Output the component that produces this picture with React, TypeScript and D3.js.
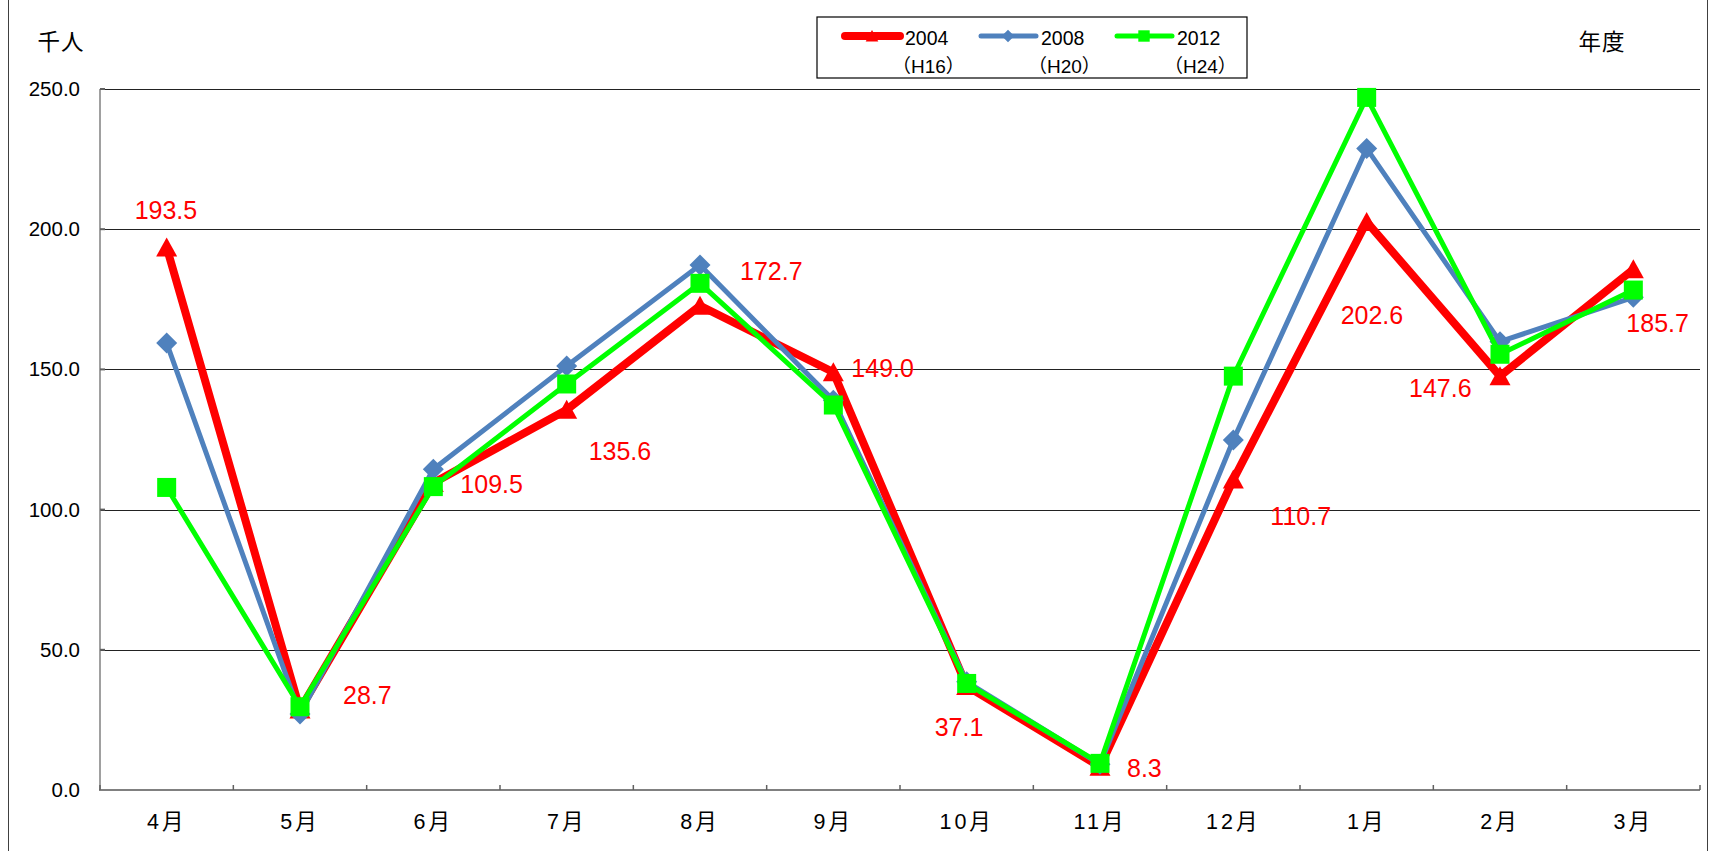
import * as d3 from 'd3'

const months = ['4月', '5月', '6月', '7月', '8月', '9月', '10月', '11月', '12月', '1月', '2月', '3月']
const v2004 = [193.5, 28.7, 109.5, 135.6, 172.7, 149.0, 37.1, 8.3, 110.7, 202.6, 147.6, 185.7]
const v2008 = [159.4, 27.1, 114.4, 151.2, 187.2, 139.0, 38.6, 9.2, 124.8, 228.8, 159.9, 175.7]
const v2012 = [107.9, 29.7, 108.2, 144.8, 180.7, 137.3, 38.0, 9.5, 147.6, 247.0, 155.4, 178.3]
const yTicks = [0, 50, 100, 150, 200, 250]
const seriesNames = ['2004', '2008', '2012']
const seriesEras = ['（H16）', '（H20）', '（H24）']

// hand placement of the red value labels, offset from each point (px)
const labelOffsets: [number, number][] = [
  [-32, -28], [43, -6], [27, 10], [22, 50], [40, -26], [18, 5],
  [-32, 50], [27, 10], [37, 45], [-26, 102], [-91, 21], [-7, 63],
]

const W = 1711
const H = 851
const margin = { top: 89, right: 11, bottom: 61, left: 100 }
const FONT = '"Liberation Sans", Arial, "Noto Sans CJK JP", sans-serif'

const shapes: Record<string, string> = {
  triangle: 'M0,-10L10.5,9L-10.5,9Z',
  diamond: 'M0,-10.5L10.5,0L0,10.5L-10.5,0Z',
  square: 'M-9.5,-9.5H9.5V9.5H-9.5Z',
}

const series = [
  { name: seriesNames[0], era: seriesEras[0], values: v2004, color: '#FF0000', width: 8, shape: 'triangle' },
  { name: seriesNames[1], era: seriesEras[1], values: v2008, color: '#4F81BD', width: 5, shape: 'diamond' },
  { name: seriesNames[2], era: seriesEras[2], values: v2012, color: '#00FF00', width: 5, shape: 'square' },
]

export default function App() {
  const x = d3
    .scaleBand<string>()
    .domain(months)
    .range([margin.left, W - margin.right])
  const y = d3
    .scaleLinear()
    .domain([0, 250])
    .range([H - margin.bottom, margin.top])

  const cx = (i: number) => (x(months[i]) || 0) + x.bandwidth() / 2

  const line = d3
    .line<number>()
    .x((_, i) => cx(i))
    .y((d) => y(d))

  const boundaries = months.map((m) => x(m) || 0).concat([W - margin.right])

  const legendX = [845, 981, 1117]

  return (
    <svg
      width={W}
      height={H}
      style={{ position: 'absolute', left: 0, top: 0, background: '#fff' }}
      fontFamily={FONT}
    >
      {/* outer chart frame */}
      <line x1={8.5} x2={8.5} y1={0} y2={H} stroke="#404040" strokeWidth={1} />
      <line x1={1707.5} x2={1707.5} y1={0} y2={H} stroke="#404040" strokeWidth={1} />

      {/* grid lines */}
      {yTicks.slice(1).map((t) => (
        <line
          key={t}
          x1={margin.left}
          x2={W - margin.right}
          y1={Math.round(y(t)) + 0.5}
          y2={Math.round(y(t)) + 0.5}
          stroke="#222"
          strokeWidth={1.2}
        />
      ))}

      {/* y axis */}
      <line
        x1={margin.left}
        x2={margin.left}
        y1={y(250)}
        y2={y(0)}
        stroke="#808080"
        strokeWidth={1.5}
      />
      {yTicks.map((t) => (
        <g key={t}>
          <line x1={margin.left} x2={margin.left + 5} y1={y(t)} y2={y(t)} stroke="#606060" strokeWidth={2} />
          <text x={80} y={y(t) + 7} textAnchor="end" fontSize={20.5} fill="#000">
            {t.toFixed(1)}
          </text>
        </g>
      ))}

      {/* x axis */}
      <line
        x1={margin.left - 1}
        x2={W - margin.right}
        y1={y(0)}
        y2={y(0)}
        stroke="#808080"
        strokeWidth={2}
      />
      {boundaries.map((b, i) => (
        <line key={i} x1={b} x2={b} y1={y(0)} y2={y(0) - 5} stroke="#606060" strokeWidth={1.5} />
      ))}
      {months.map((m, i) => (
        <text
          key={m}
          x={cx(i)}
          y={829}
          textAnchor="middle"
          fontSize={21.5}
          letterSpacing={3}
          fill="#000"
        >
          {m}
        </text>
      ))}

      {/* unit labels */}
      <text x={61} y={50} textAnchor="middle" fontSize={22.5} letterSpacing={1} fill="#000">
        千人
      </text>
      <text x={1602} y={50} textAnchor="middle" fontSize={22.5} letterSpacing={1} fill="#000">
        年度
      </text>

      {/* series */}
      {series.map((s) => (
        <g key={s.name}>
          <path
            d={line(s.values) || ''}
            fill="none"
            stroke={s.color}
            strokeWidth={s.width}
            strokeLinejoin="miter"
          />
          {s.values.map((v, i) => (
            <path
              key={i}
              d={shapes[s.shape]}
              transform={`translate(${cx(i)},${y(v)})`}
              fill={s.color}
            />
          ))}
        </g>
      ))}

      {/* value labels for 2004 */}
      {v2004.map((v, i) => (
        <text
          key={i}
          x={cx(i) + labelOffsets[i][0]}
          y={y(v) + labelOffsets[i][1]}
          fontSize={25}
          fill="#FF0000"
        >
          {v.toFixed(1)}
        </text>
      ))}

      {/* legend */}
      <rect x={817} y={17} width={430} height={61} fill="#fff" stroke="#000" strokeWidth={1.2} />
      {series.map((s, i) => (
        <g key={s.name}>
          <line
            x1={legendX[i]}
            x2={legendX[i] + 55}
            y1={36}
            y2={36}
            stroke={s.color}
            strokeWidth={s.width}
            strokeLinecap="round"
          />
          <path
            d={shapes[s.shape]}
            transform={`translate(${legendX[i] + 27},36) scale(0.6)`}
            fill={s.color}
          />
          <text x={legendX[i] + 60} y={45} fontSize={19.5} fill="#000">
            {s.name}
          </text>
          <text x={legendX[i] + 47} y={73} fontSize={19} fill="#000">
            {s.era}
          </text>
        </g>
      ))}
    </svg>
  )
}
